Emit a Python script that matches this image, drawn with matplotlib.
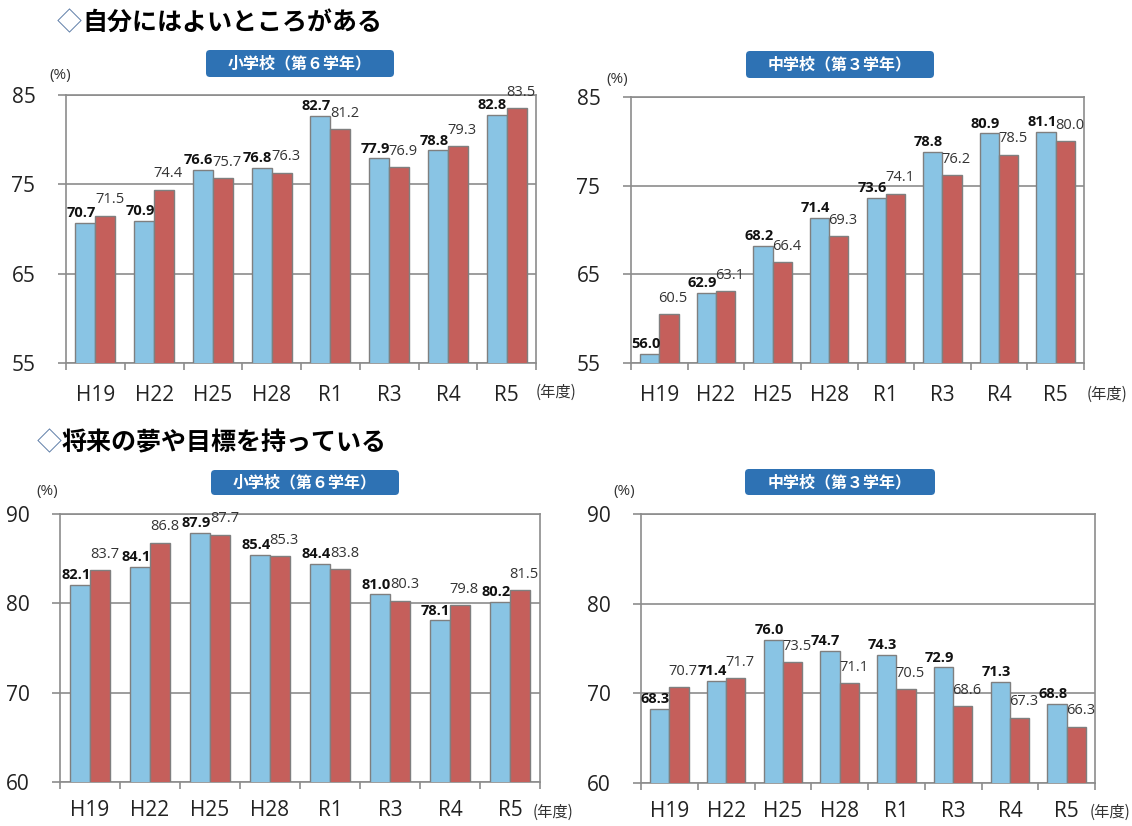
import numpy as np
import matplotlib
matplotlib.use('Agg')
import matplotlib.pyplot as plt
from matplotlib.patches import FancyBboxPatch
from matplotlib.transforms import IdentityTransform

plt.rcParams['font.family'] = ['Open Sans', 'Noto Sans CJK JP', 'DejaVu Sans']

W, H = 1132, 826

years = ['H19', 'H22', 'H25', 'H28', 'R1', 'R3', 'R4', 'R5']

# 自分にはよいところがある
self_es_blue = [70.7, 70.9, 76.6, 76.8, 82.7, 77.9, 78.8, 82.8]
self_es_red = [71.5, 74.4, 75.7, 76.3, 81.2, 76.9, 79.3, 83.5]
self_js_blue = [56.0, 62.9, 68.2, 71.4, 73.6, 78.8, 80.9, 81.1]
self_js_red = [60.5, 63.1, 66.4, 69.3, 74.1, 76.2, 78.5, 80.0]

# 将来の夢や目標を持っている
dream_es_blue = [82.1, 84.1, 87.9, 85.4, 84.4, 81.0, 78.1, 80.2]
dream_es_red = [83.7, 86.8, 87.7, 85.3, 83.8, 80.3, 79.8, 81.5]
dream_js_blue = [68.3, 71.4, 76.0, 74.7, 74.3, 72.9, 71.3, 68.8]
dream_js_red = [70.7, 71.7, 73.5, 71.1, 70.5, 68.6, 67.3, 66.3]

BLUE = '#89C4E4'
RED = '#C55F5B'
EDGE = '#7F7F7F'
GRID = '#8C8C8C'
BADGE = '#2E72B4'
JP = ['Noto Sans CJK JP', 'DejaVu Sans']

fig = plt.figure(figsize=(W / 100, H / 100), dpi=100)


def px(l, t, r, b):
    return [l / W, 1 - b / H, (r - l) / W, (b - t) / H]


def badge(text, l, t, r, b):
    p = FancyBboxPatch((l, H - b), r - l, b - t, boxstyle='round,pad=0,rounding_size=4',
                       transform=IdentityTransform(), facecolor=BADGE, edgecolor='none')
    fig.add_artist(p)
    fig.text((l + r) / 2 / W, 1 - (t + b) / 2 / H, text, ha='center', va='center',
             color='white', fontsize=11.5, fontweight='bold', family=JP)


def panel(rect, blue, red, ylim, yticks, xpad):
    ax = fig.add_axes(px(*rect))
    x = np.arange(len(years))
    bw = 0.34
    ax.bar(x - bw / 2, blue, bw, color=BLUE, edgecolor=EDGE, linewidth=1, zorder=3)
    ax.bar(x + bw / 2, red, bw, color=RED, edgecolor=EDGE, linewidth=1, zorder=3)
    for xi, b, r in zip(x, blue, red):
        ax.annotate(f'{b:.1f}', (xi - bw / 2, b), xytext=(-3, 2), textcoords='offset points',
                    ha='center', va='bottom', fontsize=10.5, fontweight='bold', color='#111111',
                    zorder=5)
        ax.annotate(f'{r:.1f}', (xi + bw / 2, r), xytext=(3, 6), textcoords='offset points',
                    ha='center', va='bottom', fontsize=10.5, color='#333333', zorder=5)
    ax.set_xlim(-0.5, 7.5)
    ax.set_ylim(*ylim)
    ax.set_yticks(yticks)
    ax.yaxis.grid(True, color=GRID, linewidth=1.2)
    ax.set_axisbelow(True)
    ax.set_xticks(np.arange(-0.5, 8, 1))
    ax.set_xticklabels([])
    ax.set_xticks(x, minor=True)
    ax.set_xticklabels(years, minor=True)
    ax.tick_params(axis='x', which='major', length=5, color=GRID, width=1.2)
    ax.tick_params(axis='x', which='minor', length=0, pad=xpad, labelsize=15, labelcolor='#222222')
    ax.tick_params(axis='y', length=6, color=GRID, width=1.2, pad=16, labelsize=15,
                   labelcolor='#222222')
    for s in ax.spines.values():
        s.set_color(GRID)
        s.set_linewidth(1.2)
    return ax


def ftext(x, y, s, **kw):
    fig.text(x / W, 1 - y / H, s, **kw)


# titles
ftext(57, 23, '◇', fontsize=18, color='#5B7BA6', va='center', family=JP)
ftext(82, 23, '自分にはよいところがある', fontsize=18, fontweight='bold', va='center', family=JP)
ftext(37, 443, '◇', fontsize=18, color='#5B7BA6', va='center', family=JP)
ftext(62, 443, '将来の夢や目標を持っている', fontsize=18, fontweight='bold', va='center', family=JP)

panel((66, 95, 536, 363), self_es_blue, self_es_red, (55, 85), [55, 65, 75, 85], 16)
panel((631, 97, 1084, 363), self_js_blue, self_js_red, (55, 85), [55, 65, 75, 85], 16)
panel((60, 514, 540, 782), dream_es_blue, dream_es_red, (60, 90), [60, 70, 80, 90], 13)
panel((641, 514, 1095, 783), dream_js_blue, dream_js_red, (60, 90), [60, 70, 80, 90], 13)

badge('小学校（第６学年）', 206, 50, 394, 77)
badge('中学校（第３学年）', 746, 51, 934, 78)
badge('小学校（第６学年）', 211, 470, 399, 495)
badge('中学校（第３学年）', 745, 469, 935, 495)

for x, y in [(60, 75), (617, 80), (47, 492), (624, 492)]:
    ftext(x, y, '(%)', fontsize=11, ha='center', va='center', color='#333333')

for x, y in [(556, 392), (1107, 394), (553, 812), (1110, 812)]:
    ftext(x, y, '(年度)', fontsize=11, ha='center', va='center', color='#333333', family=JP)

fig.savefig('out.png', dpi=100)
